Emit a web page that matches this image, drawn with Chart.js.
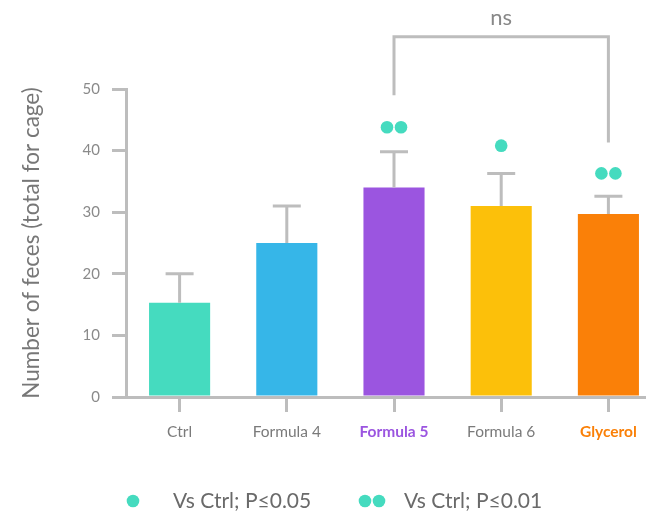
<!DOCTYPE html>
<html>
<head>
<meta charset="utf-8">
<script src="https://cdn.jsdelivr.net/npm/chart.js@4"></script>
<style>
html, body { margin: 0; padding: 0; background: #fff; overflow: hidden; }
#wrap { position: relative; width: 662px; height: 513px; }
</style>
</head>
<body>
<div id="wrap"><canvas id="graficoHeces"></canvas></div>
<script>
// datos
const categories = ['Ctrl', 'Formula 4', 'Formula 5', 'Formula 6', 'Glycerol'];
const means = [15.3, 25, 34, 31, 29.7];
const errors = [4.7, 6, 5.8, 5.3, 2.9];
const barColors = ['#45dbbf', '#36b6e8', '#9b55e0', '#fcc00a', '#fa8008'];
const labelColors = ['#7a7a7a', '#7a7a7a', '#9b55e0', '#7a7a7a', '#fa8008'];
const labelBold = [false, false, true, false, true];
const sigLevel = [0, 0, 2, 1, 2];
const sigY = [null, null, 43.8, 40.8, 36.3];
const compareCats = ['Formula 5', 'Glycerol'];
const compareY = [49, 58.5, 41.3]; // extremo izq, arriba, extremo der
const compareText = 'ns';
const compareTextY = 61.6;
const legendTexts = ['Vs Ctrl; P\u22640.05', 'Vs Ctrl; P\u22640.01'];
const legendDots = [1, 2];

const GRIS = '#bdbdbd';
const TEAL = '#45dbbf';

function dots(ctx, x, y, n) {
    ctx.fillStyle = TEAL;
    const offs = n === 2 ? [-7, 7] : [0];
    offs.forEach(function(o) {
        ctx.beginPath();
        ctx.arc(x + o, y, 6.3, 0, Math.PI * 2);
        ctx.fill();
    });
}

const extras = {
    id: 'extras',
    afterDatasetsDraw(chart) {
        const ctx = chart.ctx;
        const xs = chart.scales.x, ys = chart.scales.y;
        const meta = chart.getDatasetMeta(0);
        ctx.save();
        ctx.strokeStyle = GRIS;
        ctx.lineWidth = 3;
        // barras de error
        meta.data.forEach(function(bar, i) {
            const top = ys.getPixelForValue(means[i] + errors[i]);
            ctx.beginPath();
            ctx.moveTo(bar.x, bar.y);
            ctx.lineTo(bar.x, top);
            ctx.moveTo(bar.x - 14, top);
            ctx.lineTo(bar.x + 14, top);
            ctx.stroke();
        });
        // significancia
        categories.forEach(function(c, i) {
            if (sigLevel[i] > 0) {
                dots(ctx, xs.getPixelForValue(i), ys.getPixelForValue(sigY[i]), sigLevel[i]);
            }
        });
        // corchete ns
        const x1 = xs.getPixelForValue(categories.indexOf(compareCats[0]));
        const x2 = xs.getPixelForValue(categories.indexOf(compareCats[1]));
        ctx.beginPath();
        ctx.moveTo(x1, ys.getPixelForValue(compareY[0]));
        ctx.lineTo(x1, ys.getPixelForValue(compareY[1]));
        ctx.lineTo(x2, ys.getPixelForValue(compareY[1]));
        ctx.lineTo(x2, ys.getPixelForValue(compareY[2]));
        ctx.stroke();
        ctx.fillStyle = '#888';
        ctx.font = '22px Lato';
        ctx.textAlign = 'center';
        ctx.textBaseline = 'middle';
        ctx.fillText(compareText, (x1 + x2) / 2, ys.getPixelForValue(compareTextY));
        ctx.restore();
    },
    afterDraw(chart) {
        // leyenda
        const ctx = chart.ctx;
        const pos = [[133, 173], [372, 404]];
        ctx.save();
        ctx.font = '21px Lato';
        ctx.textBaseline = 'middle';
        ctx.textAlign = 'left';
        legendTexts.forEach(function(t, i) {
            dots(ctx, pos[i][0], 501, legendDots[i]);
            ctx.fillStyle = '#6a6a6a';
            ctx.fillText(t, pos[i][1], 501);
        });
        ctx.restore();
    }
};

new Chart(document.getElementById('graficoHeces').getContext('2d'), {
    type: 'bar',
    data: {
        labels: categories,
        datasets: [{
            data: means,
            backgroundColor: barColors,
            borderWidth: 0,
            categoryPercentage: 1,
            barPercentage: 0.57
        }]
    },
    options: {
        responsive: true,
        maintainAspectRatio: false,
        animation: false,
        layout: { padding: { top: 89, right: 0, bottom: 72, left: 0 } },
        plugins: { legend: { display: false }, tooltip: { enabled: false } },
        scales: {
            x: {
                afterFit: function(s) { s.height = 44; },
                border: { color: GRIS, width: 3 },
                grid: { offset: false, drawOnChartArea: false, tickLength: 15, color: GRIS, lineWidth: 3 },
                ticks: {
                    padding: 11,
                    color: function(c) { return labelColors[c.index]; },
                    font: function(c) {
                        return { family: 'Lato', size: 15.5, weight: labelBold[c.index] ? 'bold' : 'normal' };
                    }
                }
            },
            y: {
                min: 0,
                max: 50,
                afterFit: function(s) { s.width = 126; },
                border: { color: GRIS, width: 3 },
                grid: { drawOnChartArea: false, tickLength: 14, color: GRIS, lineWidth: 3 },
                ticks: { stepSize: 10, padding: 12, color: '#8a8a8a', font: { family: 'Lato', size: 15 } },
                title: {
                    display: true,
                    text: 'Number of feces (total for cage)',
                    color: '#777',
                    font: { family: 'Lato', size: 22.5 },
                    padding: { top: 18, bottom: 0 }
                }
            }
        }
    },
    plugins: [extras]
});
</script>
</body>
</html>
